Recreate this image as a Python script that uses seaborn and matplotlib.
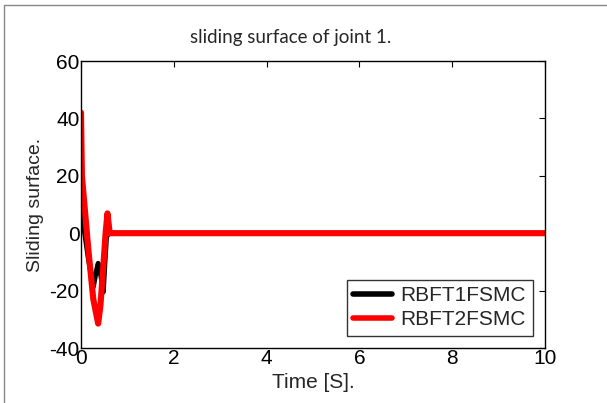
import numpy as np
import pandas as pd
import matplotlib
matplotlib.use("Agg")
import matplotlib.pyplot as plt
import seaborn as sns
from matplotlib.lines import Line2D

# sliding surface readings (time in s, value)
t_t1 = [0.0, 0.015, 0.08, 0.16, 0.265, 0.32, 0.37, 0.43, 0.48, 0.52, 0.55, 0.6, 10.0]
s_t1 = [12.0, 8.0, 0.0, -9.0, -18.7, -14.0, -10.5, -15.0, -20.5, -9.0, -1.3, 0.0, 0.0]

t_t2 = [0.0, 0.02, 0.16, 0.265, 0.37, 0.42, 0.48, 0.53, 0.57, 0.62, 10.0]
s_t2 = [42.0, 20.0, -6.0, -23.0, -31.5, -25.0, -11.7, 0.0, 6.9, 0.0, 0.0]

labels = ["RBFT1FSMC", "RBFT2FSMC"]
xticks = [0, 2, 4, 6, 8, 10]
yticks = [-40, -20, 0, 20, 40, 60]

df = pd.concat([
    pd.DataFrame({"Time": t_t1, "S": s_t1, "ctrl": labels[0]}),
    pd.DataFrame({"Time": t_t2, "S": s_t2, "ctrl": labels[1]}),
])

sns.set_style("white")
plt.rcParams["font.family"] = ["Liberation Sans", "DejaVu Sans"]
plt.rcParams["axes.unicode_minus"] = False

fig = plt.figure(figsize=(6.07, 4.03), dpi=100)
ax = fig.add_axes([81 / 607, 1 - 348 / 403, 464 / 607, 287 / 403])

sns.lineplot(data=df, x="Time", y="S", hue="ctrl", palette=["black", "red"],
             ax=ax, sort=False, legend=False)
ax.lines[0].set_linewidth(3.6)
ax.lines[1].set_linewidth(4.4)

ax.set_xlim(0, 10)
ax.set_ylim(-40, 60)
ax.set_xticks(xticks)
ax.set_yticks(yticks)
ax.tick_params(direction="in", length=4, width=0.8, top=True, right=True,
               labelsize=15, pad=1, colors="black")
for lab in ax.get_xticklabels() + ax.get_yticklabels():
    lab.set_fontfamily("Liberation Sans")
for sp in ax.spines.values():
    sp.set_color("black")
    sp.set_linewidth(1.0)

ax.set_xlabel("Time [S].", fontsize=15, labelpad=3, fontfamily="Liberation Sans")
ax.set_ylabel("Sliding surface.", fontsize=14, labelpad=4, fontfamily="Liberation Sans")

handles = [Line2D([], [], color="black", lw=4), Line2D([], [], color="red", lw=4)]
leg = ax.legend(handles, labels, loc="lower right", frameon=True,
                prop={"family": "Liberation Sans", "size": 15},
                fancybox=False, handlelength=1.9, handletextpad=0.4,
                borderpad=0.3, labelspacing=0.25, borderaxespad=0.6)
leg.get_frame().set_edgecolor("black")
leg.get_frame().set_linewidth(1.0)

fig.text(291 / 607, 1 - 37 / 403, "sliding surface of joint 1.", ha="center",
         va="center", fontsize=13.5, fontfamily="Lato")

# page border lines around the figure
fig.add_artist(Line2D([4 / 607, 4 / 607], [0, 1 - 5 / 403], color="#888888", lw=1))
fig.add_artist(Line2D([4 / 607, 1], [1 - 5 / 403, 1 - 5 / 403], color="#888888", lw=1))

fig.savefig("out.png", dpi=100)
